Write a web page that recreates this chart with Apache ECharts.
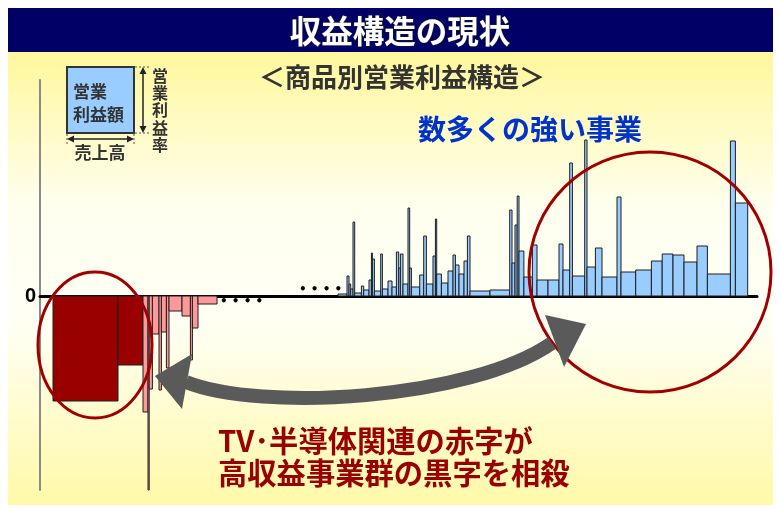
<!DOCTYPE html>
<html>
<head>
<meta charset="utf-8">
<script src="https://cdn.jsdelivr.net/npm/echarts@6/dist/echarts.min.js"></script>
<style>
  html, body { margin: 0; padding: 0; background: #ffffff; }
  #chart { width: 779px; height: 508px; }
</style>
</head>
<body>
<div id="chart"></div>
<script>
// 商品別の売上高（棒の幅）と営業利益率（棒の高さ）
// 赤字事業（TV・半導体関連が先頭の2本）
const lossSales  = [65, 25, 5, 1.2, 3.2, 6.6, 2.4, 5, 2.6, 13, 8.4, 2, 5.6, 19];
const lossMargin = [-10.5, -6.9, -11.6, -19.4, -9.3, -3.8, -9.4, -3.6, -7.2, -1.5, -2.0, -6.4, -3.2, -0.8];
const tvSemiCount = 2;

// 省略部分（・・・・）の売上高
const omittedSales = 121;

// 黒字事業
const profitSales = [9, 2, 1.7, 2.3, 1.7, 6.7, 2.3, 5.3, 2.4, 1, 2, 6.3, 1.7, 5.6, 4, 4.4, 2.3, 1.7, 2.6, 5,
  1.7, 1.7, 8.3, 4, 2.7, 6.6, 2.4, 1.3, 4.7, 6.6, 5, 2.4, 3.6, 5, 3.4, 2.6, 20, 19.7, 2.3, 3,
  2.2, 1.8, 4.9, 8.5, 4.6, 11, 11, 4, 6.7, 2.7, 12.3, 2.3, 8.4, 6.6, 15, 4, 14.7, 15.7, 10.8, 10.8,
  11, 13, 10.4, 23, 5, 12.3];
const profitMargin = [0.2, 2.0, 1.2, 0.7, 7.4, 0.3, 1.0, 0.6, 1.6, 4.3, 3.7, 0.5, 4.2, 0.7, 1.5, 0.9, 4.4, 2.8, 4.2, 1.2,
  8.8, 2.8, 0.9, 2.1, 6.0, 1.2, 4.0, 7.7, 2.2, 1.3, 2.5, 4.1, 3.1, 2.2, 3.5, 6.0, 0.5, 0.6, 8.6, 3.3,
  7.1, 10.0, 4.5, 1.9, 5.1, 1.6, 1.6, 5.2, 2.6, 13.3, 2.0, 15.6, 2.9, 4.8, 1.9, 9.9, 2.4, 2.6, 3.5, 4.2,
  4.1, 3.4, 5.0, 2.2, 15.5, 9.3];

const yMin = -19.4, yMax = 21.6;

// 売上高を累積して各棒の左右端を求める
function buildRows(sales, margins, start) {
  const rows = [];
  let x = start;
  for (let i = 0; i < sales.length; i++) {
    rows.push([x, x + sales[i], margins[i], i]);
    x += sales[i];
  }
  return { rows, end: x };
}
const loss = buildRows(lossSales, lossMargin, 0);
const profit = buildRows(profitSales, profitMargin, loss.end + omittedSales);

function rectItem(api, fill) {
  const p0 = api.coord([api.value(0), 0]);
  const p1 = api.coord([api.value(1), api.value(2)]);
  return {
    type: 'rect',
    shape: { x: p0[0], y: Math.min(p0[1], p1[1]), width: p1[0] - p0[0], height: Math.abs(p1[1] - p0[1]) },
    style: { fill: fill, stroke: '#1e1e1e', lineWidth: 1 }
  };
}

const chart = echarts.init(document.getElementById('chart'), null, { renderer: 'canvas' });
const CJK = '"Noto Sans CJK JP", "Noto Sans", sans-serif';

// 凡例の矢印（小さな三角）
function tri(points, z) {
  return { type: 'polygon', shape: { points: points }, style: { fill: '#222' }, z: z || 20 };
}

const option = {
  animation: false,
  backgroundColor: 'transparent',
  grid: { left: 40, right: 22, top: 80, bottom: 18 },
  xAxis: {
    type: 'value', min: -13, max: 704,
    axisLine: { show: true, onZero: true, lineStyle: { color: '#000', width: 3 } },
    axisTick: { show: false }, axisLabel: { show: false }, splitLine: { show: false }
  },
  yAxis: {
    type: 'value', min: yMin, max: yMax,
    axisLine: { show: true, onZero: false, lineStyle: { color: '#8a8a8a', width: 2 } },
    axisTick: { show: false }, splitLine: { show: false },
    axisLabel: {
      formatter: v => (v === 0 ? '0' : ''),
      fontSize: 20, fontWeight: 'bold', color: '#000', fontFamily: 'Liberation Sans, Arial, sans-serif', margin: 4
    }
  },
  series: [
    {
      type: 'custom', name: '赤字事業', z: 3,
      encode: { x: [0, 1], y: 2 },
      data: loss.rows,
      renderItem: (params, api) => rectItem(api, api.value(3) < tvSemiCount ? '#990000' : '#ff9999')
    },
    {
      type: 'custom', name: '黒字事業', z: 3,
      encode: { x: [0, 1], y: 2 },
      data: profit.rows,
      renderItem: (params, api) => rectItem(api, '#99ccff')
    }
  ],
  graphic: [
    // 背景
    {
      type: 'rect', z: -10, silent: true,
      shape: { x: 8, y: 52, width: 765, height: 453 },
      style: {
        fill: new echarts.graphic.LinearGradient(0, 0, 0, 1, [
          { offset: 0, color: '#fff79c' },
          { offset: 0.35, color: '#fffff0' },
          { offset: 0.6, color: '#fffff4' },
          { offset: 1, color: '#fff9a8' }
        ])
      }
    },
    { type: 'rect', z: -9, shape: { x: 8, y: 8, width: 765, height: 44 }, style: { fill: '#000066' } },
    {
      type: 'text', z: 30, x: 400, y: 31,
      style: { text: '収益構造の現状', fill: '#ffffff', font: 'bold 31.5px ' + CJK, align: 'center', verticalAlign: 'middle',
               stroke: '#202020', lineWidth: 1 }
    },
    {
      type: 'text', z: 30, x: 402, y: 77,
      style: { text: '＜商品別営業利益構造＞', fill: '#333333', font: 'bold 26px ' + CJK, align: 'center', verticalAlign: 'middle' }
    },
    // 凡例
    { type: 'rect', z: 20, shape: { x: 67, y: 67, width: 67, height: 66 }, style: { fill: '#99ccff', stroke: '#333', lineWidth: 2 } },
    { type: 'text', z: 21, x: 73, y: 92, style: { text: '営業', fill: '#333', font: 'bold 17px ' + CJK, verticalAlign: 'middle' } },
    { type: 'text', z: 21, x: 73, y: 115, style: { text: '利益額', fill: '#333', font: 'bold 17px ' + CJK, verticalAlign: 'middle' } },
    { type: 'line', z: 20, shape: { x1: 143, y1: 72, x2: 143, y2: 128 }, style: { stroke: '#222', lineWidth: 1.5 } },
    tri([[143, 67], [139.5, 74], [146.5, 74]]),
    tri([[143, 133], [139.5, 126], [146.5, 126]]),
    { type: 'line', z: 20, shape: { x1: 72, y1: 139, x2: 129, y2: 139 }, style: { stroke: '#222', lineWidth: 1.5 } },
    tri([[67, 139], [74, 135.5], [74, 142.5]]),
    tri([[134, 139], [127, 135.5], [127, 142.5]]),
    { type: 'line', z: 20, shape: { x1: 135, y1: 67, x2: 150, y2: 67 }, style: { stroke: '#555', lineWidth: 1, lineDash: [2, 2] } },
    { type: 'line', z: 20, shape: { x1: 135, y1: 133, x2: 150, y2: 133 }, style: { stroke: '#555', lineWidth: 1, lineDash: [2, 2] } },
    { type: 'line', z: 20, shape: { x1: 67, y1: 134, x2: 67, y2: 144 }, style: { stroke: '#555', lineWidth: 1, lineDash: [2, 2] } },
    { type: 'line', z: 20, shape: { x1: 134, y1: 134, x2: 134, y2: 144 }, style: { stroke: '#555', lineWidth: 1, lineDash: [2, 2] } },
    { type: 'text', z: 21, x: 100, y: 153, style: { text: '売上高', fill: '#333', font: 'bold 17px ' + CJK, align: 'center', verticalAlign: 'middle' } },
    {
      type: 'text', z: 21, x: 160, y: 67,
      style: { text: '営\n業\n利\n益\n率', fill: '#333', font: 'bold 16px ' + CJK, align: 'center', verticalAlign: 'top', lineHeight: 17.3 }
    },
    // 見出し
    { type: 'text', z: 30, x: 418, y: 129, style: { text: '数多くの強い事業', fill: '#0033cc', font: 'bold 28px ' + CJK, verticalAlign: 'middle' } },
    // 省略記号
    { type: 'text', z: 10, x: 220, y: 302, style: { text: '• • • •', fill: '#000', font: 'bold 12px "DejaVu Sans", sans-serif', verticalAlign: 'middle' } },
    { type: 'text', z: 10, x: 299, y: 290, style: { text: '• • • •', fill: '#000', font: 'bold 12px "DejaVu Sans", sans-serif', verticalAlign: 'middle' } },
    // 楕円
    { type: 'ellipse', z: 40, shape: { cx: 95, cy: 345, rx: 57, ry: 73 }, style: { fill: 'none', stroke: '#a00000', lineWidth: 3 } },
    { type: 'ellipse', z: 40, shape: { cx: 650, cy: 272, rx: 121, ry: 120 }, style: { fill: 'none', stroke: '#a00000', lineWidth: 3 } },
    // 相殺を示す両矢印
    {
      type: 'bezierCurve', z: 45,
      shape: { x1: 186, y1: 382, cpx1: 260, cpy1: 412, cpx2: 470, cpy2: 400, x2: 552, y2: 343 },
      style: { fill: 'none', stroke: '#5a5a5a', lineWidth: 14 }
    },
    { type: 'polygon', z: 46, shape: { points: [[155, 376], [192, 354], [182, 409]] }, style: { fill: '#5a5a5a' } },
    { type: 'polygon', z: 46, shape: { points: [[586, 324], [545, 315], [564, 367]] }, style: { fill: '#5a5a5a' } },
    // 結論
    { type: 'text', z: 30, x: 218, y: 441, style: { text: 'TV･半導体関連の赤字が', fill: '#990000', font: 'bold 29.3px ' + CJK, verticalAlign: 'middle' } },
    { type: 'text', z: 30, x: 218, y: 473, style: { text: '高収益事業群の黒字を相殺', fill: '#990000', font: 'bold 29.3px ' + CJK, verticalAlign: 'middle' } }
  ]
};
chart.setOption(option);
</script>
</body>
</html>
